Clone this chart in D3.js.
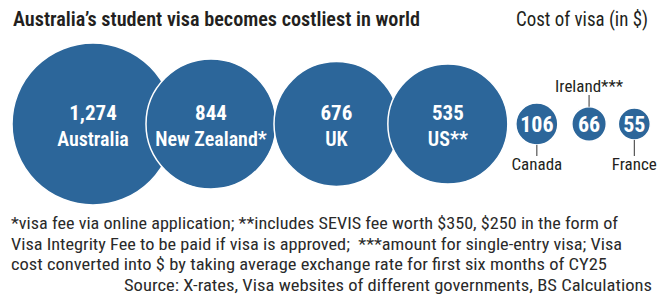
<!DOCTYPE html>
<html>
<head>
<meta charset="utf-8">
<script src="https://cdn.jsdelivr.net/npm/d3@7"></script>
<style>
  html, body { margin: 0; padding: 0; background: #ffffff; }
  svg { display: block; }
  text { font-family: "Liberation Sans Narrow", "Roboto Condensed", "DejaVu Sans Condensed", Roboto, sans-serif; }
</style>
</head>
<body>
<script>
// ---- data ----
const countries = ["Australia", "New Zealand*", "UK", "US**", "Canada", "Ireland***", "France"];
const costs = [1274, 844, 676, 535, 106, 66, 55];
const titleText = "Australia\u2019s student visa becomes costliest in world";
const subtitleText = "Cost of visa (in $)";
const footnotes = [
  "*visa fee via online application; **includes SEVIS fee worth $350, $250 in the form of",
  "Visa Integrity Fee to be paid if visa is approved;  ***amount for single-entry visa; Visa",
  "cost converted into $ by taking average exchange rate for first six months of CY25",
  "Source: X-rates, Visa websites of different governments, BS Calculations"
];

// ---- layout ----
const W = 670, H = 301;
const blue = "#2c669a";
const ink = "#231f20";
const svg = d3.select("body").append("svg").attr("width", W).attr("height", H);

const r = d3.scaleSqrt().domain([0, 55, 106, 535, 844, 1274]).range([0, 16, 21, 60, 65, 81]);
const gaps = [-28, -2, -11, 8, 14, 12];
const cy = 124;
const fmt = d3.format(",");

const nodes = [];
let cursor = 12;
costs.forEach((v, i) => {
  const rad = r(v);
  const cx = i === 0 ? cursor + rad : nodes[i - 1].cx + nodes[i - 1].r + rad + gaps[i - 1];
  nodes.push({ name: countries[i], value: v, r: rad, cx });
});

// title / subtitle
svg.append("text").attr("x", 13).attr("y", 26)
  .attr("font-size", 21).attr("font-weight", 600).attr("fill", ink)
  .attr("textLength", 407).attr("lengthAdjust", "spacingAndGlyphs")
  .text(titleText);
svg.append("text").attr("x", 516).attr("y", 26)
  .attr("font-size", 20).attr("fill", ink)
  .attr("textLength", 132).attr("lengthAdjust", "spacingAndGlyphs")
  .text(subtitleText);

// circles
const g = svg.append("g");
g.selectAll("circle").data(nodes).join("circle")
  .attr("cx", d => d.cx).attr("cy", cy).attr("r", d => d.r)
  .attr("fill", blue).attr("stroke", "#ffffff").attr("stroke-width", 1.5);

const big = nodes.filter(d => d.r > 40);
const small = nodes.filter(d => d.r <= 40);

g.selectAll("text.val-big").data(big).join("text").attr("class", "val-big")
  .attr("x", d => d.cx).attr("y", cy - 4)
  .attr("text-anchor", "middle").attr("font-size", 21).attr("font-weight", 700)
  .attr("fill", "#ffffff").text(d => fmt(d.value));
g.selectAll("text.name-big").data(big).join("text").attr("class", "name-big")
  .attr("x", d => d.cx).attr("y", cy + 22)
  .attr("text-anchor", "middle").attr("font-size", 20).attr("font-weight", 600)
  .attr("fill", "#ffffff").text(d => d.name);

g.selectAll("text.val-small").data(small).join("text").attr("class", "val-small")
  .attr("x", d => d.cx).attr("y", cy + 8)
  .attr("text-anchor", "middle").attr("font-size", 22).attr("font-weight", 700)
  .attr("fill", "#ffffff").text(d => fmt(d.value));

// outside labels for small circles: above when alternating
small.forEach((d, i) => {
  const above = i % 2 === 1;
  const y1 = above ? cy - d.r : cy + d.r;
  const y2 = above ? 95 : 156;
  g.append("line").attr("x1", d.cx).attr("x2", d.cx).attr("y1", y1).attr("y2", y2)
    .attr("stroke", "#333").attr("stroke-width", 1);
  g.append("text").attr("x", d.cx).attr("y", above ? 92 : 170)
    .attr("text-anchor", "middle").attr("font-size", 17).attr("fill", ink)
    .text(d.name);
});

// footnotes
const fn = svg.append("g");
const fnWidths = [607, 611, 596, 528];
footnotes.forEach((t, i) => {
  const last = i === footnotes.length - 1;
  fn.append("text")
    .attr("x", last ? 652 : 11)
    .attr("y", 229 + 20.5 * i)
    .attr("text-anchor", last ? "end" : "start")
    .attr("font-size", 16.5).attr("fill", "#2a2a2a")
    .attr("xml:space", "preserve")
    .attr("textLength", fnWidths[i]).attr("lengthAdjust", "spacingAndGlyphs")
    .text(t);
});
</script>
</body>
</html>
